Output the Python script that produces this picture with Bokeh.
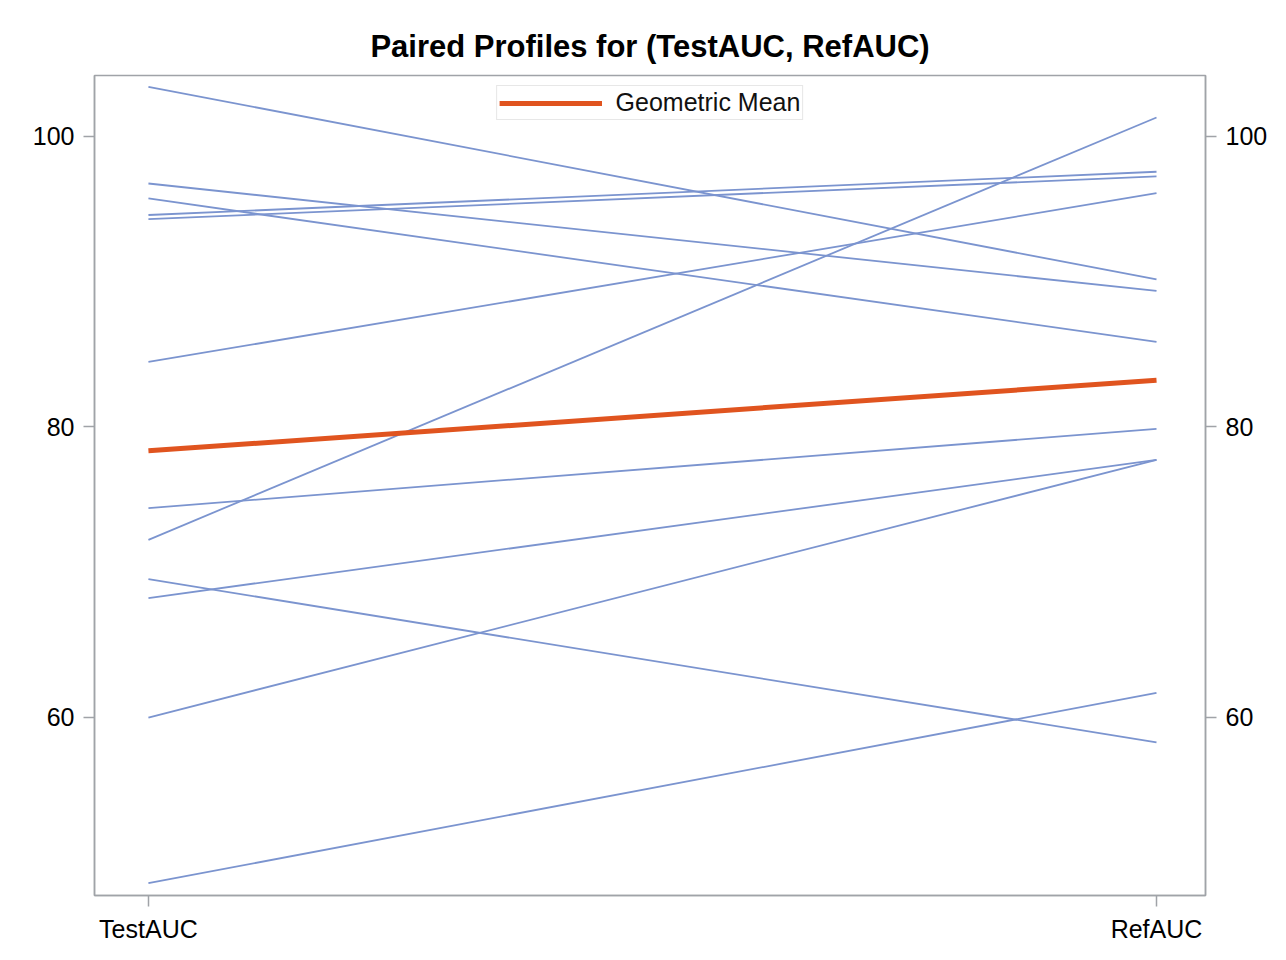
from bokeh.plotting import figure
from bokeh.models import LinearAxis, FixedTicker, Range1d, Legend, LegendItem
from bokeh.embed import file_html
from bokeh.resources import INLINE

# ---- data ----
categories = ["TestAUC", "RefAUC"]
test_auc = [103.42, 96.76, 95.73, 94.59, 94.31, 84.47, 72.22, 74.40, 68.21, 69.51, 59.98, 48.57]
ref_auc = [90.15, 89.36, 85.85, 97.57, 97.25, 96.10, 101.31, 79.86, 77.73, 58.26, 77.73, 61.68]
geo_mean = [78.35, 83.21]
y_ticks = [60, 80, 100]

FONT = "Liberation Sans"
GRAY = "#A0A3A8"
BLUE = "#7B94CF"
ORANGE = "#E0541F"

p = figure(
    output_backend="svg", toolbar_location=None,
    frame_width=1111, frame_height=820,
    min_border_left=94, min_border_right=73, min_border_top=75, min_border_bottom=57,
    x_range=Range1d(-0.0535, 1.0486), y_range=Range1d(47.72, 104.2),
    y_axis_location="left",
)
p.background_fill_color = "white"
p.border_fill_color = "white"
p.outline_line_color = GRAY
p.outline_line_width = 1.5
p.grid.visible = False

p.title.text = "Paired Profiles for (TestAUC, RefAUC)"
p.title.align = "center"
p.title.text_font = FONT
p.title.text_font_style = "bold"
p.title.text_font_size = "31px"
p.title.text_color = "black"
p.title.standoff = 23

xs = [[0, 1] for _ in test_auc]
ys = [[t, r] for t, r in zip(test_auc, ref_auc)]
p.multi_line(xs, ys, line_color=BLUE, line_width=1.8)

gm = p.line([0, 1], geo_mean, line_color=ORANGE, line_width=5)

legend = Legend(items=[LegendItem(label="Geometric Mean", renderers=[gm])],
                location="top_center")
legend.glyph_width = 103
legend.glyph_height = 20
legend.label_standoff = 14
legend.label_text_font = FONT
legend.label_text_font_size = "25px"
legend.label_text_color = "#111111"
legend.padding = 2
legend.margin = 10
legend.spacing = 0
legend.label_height = 20
legend.border_line_color = "#CFCFCF"
legend.border_line_width = 1.5
legend.background_fill_alpha = 1.0
p.add_layout(legend, "center")


def style_axis(ax):
    ax.axis_line_color = GRAY
    ax.axis_line_width = 1.5
    ax.major_tick_line_color = GRAY
    ax.major_tick_line_width = 1.5
    ax.major_tick_out = 11
    ax.major_tick_in = 0
    ax.minor_tick_line_color = None
    ax.major_label_text_font = FONT
    ax.major_label_text_font_size = "25px"
    ax.major_label_text_color = "black"
    ax.major_label_standoff = 9


ya = p.yaxis[0]
ya.ticker = FixedTicker(ticks=y_ticks)
style_axis(ya)

yr = LinearAxis(ticker=FixedTicker(ticks=y_ticks))
style_axis(yr)
p.add_layout(yr, "right")

xa = p.xaxis[0]
xa.ticker = FixedTicker(ticks=[0, 1])
xa.major_label_overrides = {i: c for i, c in enumerate(categories)}
style_axis(xa)
xa.major_label_standoff = 8

open("out.html", "w").write(file_html(p, INLINE))
